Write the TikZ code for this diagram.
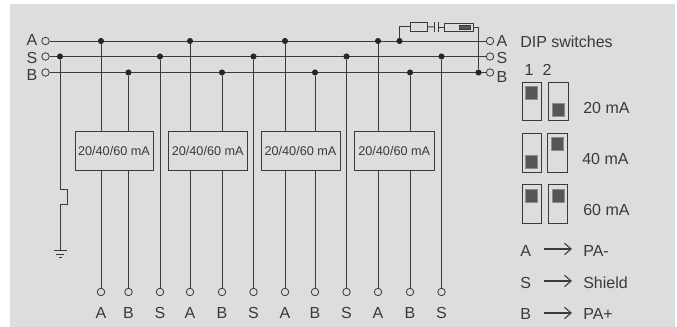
\documentclass[tikz,border=0pt]{standalone}
\usepackage{fontspec}
\setmainfont{Liberation Sans}
\usetikzlibrary{arrows.meta}
\definecolor{panel}{HTML}{DCDDDF}
\definecolor{ink}{HTML}{3A3A3A}
\definecolor{knobgray}{HTML}{555657}
\tikzstyle{wire}=[color=ink,line width=0.7pt]
\tikzstyle{dot}=[circle,fill=black!85,inner sep=0pt,minimum size=4.6pt]
\tikzstyle{term}=[circle,draw=ink,fill=panel,line width=0.6pt,inner sep=0pt,minimum size=5.6pt]
\tikzstyle{lbl}=[text=ink,inner sep=0pt,font=\fontsize{12}{14}\selectfont]
\tikzstyle{lblW}=[lbl,anchor=west]
\tikzstyle{modbox}=[draw=ink,fill=panel,line width=0.7pt,inner sep=0pt,minimum height=29.25pt,text=ink,font=\fontsize{9.5}{11}\selectfont]
\tikzstyle{switchbox}=[draw=ink,fill=panel,line width=0.7pt,inner sep=0pt,minimum width=14.4pt,minimum height=29pt]
\tikzstyle{knob}=[draw=black!45,fill=knobgray,line width=0.5pt,inner sep=0pt,minimum width=9pt,minimum height=9.6pt]
\tikzstyle{part}=[draw=ink,fill=panel,line width=0.7pt,inner sep=0pt]
\tikzstyle{arr}=[color=ink,line width=0.8pt,-{Straight Barb[length=5pt,width=8.5pt]}]
\newcommand{\tap}[4]{
  \node[dot] (t#1) at (#2,#3) {};
  \node[term] (p#1) at (#2,292) {};
  \node[lbl] (l#1) at (#2,313) {#4}
 }
\newcommand{\module}[3]{
  \node[modbox,minimum width=#3] (#1) at (#2,150.5) {20/40/60 mA}
 }
\newcommand{\feed}[2]{
  \draw[wire] (t#1) -- (t#1 |- #2.north);
  \draw[wire] (t#1 |- #2.south) -- (p#1)
 }
\newcommand{\dip}[4]{
  \node[switchbox] (#1) at (#2,#3) {};
  \node[knob] (k#1) at ([yshift=#4]#1.center) {}
 }
\newcommand{\legendrow}[5]{
  \node[lblW] (n#1) at (520,#4) {#2};
  \node[lblW] (v#1) at (583,#4) {#3};
  \coordinate (a#1) at (544,#5);
  \coordinate (b#1) at (572,#5);
  \draw[arr] (a#1) -- (b#1)
 }

\begin{document}
\begin{tikzpicture}[x=0.75pt,y=-0.75pt]
  \useasboundingbox (0,0) rectangle (677,327);
  \fill[panel] (10,4) rectangle (675,327);

  \node[term] (la) at (45.5,41) {};
  \node[term] (ls) at (45.5,56.5) {};
  \node[term] (lb) at (45.5,72.5) {};
  \node[term] (ra) at (490,41) {};
  \node[term] (rs) at (490,56.5) {};
  \node[term] (rb) at (490,72.5) {};
  \node[lbl] (nla) at (32,40) {A};
  \node[lbl] (nls) at (32,58) {S};
  \node[lbl] (nlb) at (32,75) {B};
  \node[lbl] (nra) at (502,41) {A};
  \node[lbl] (nrs) at (502,58) {S};
  \node[lbl] (nrb) at (502,77) {B};
  \draw[wire] (la) -- (ra);
  \draw[wire] (ls) -- (rs);
  \draw[wire] (lb) -- (rb);

  \tap{a1}{101}{41}{A};
  \tap{b1}{128.5}{72.5}{B};
  \tap{s1}{160}{56.5}{S};
  \tap{a2}{190}{41}{A};
  \tap{b2}{222}{72.5}{B};
  \tap{s2}{253.5}{56.5}{S};
  \tap{a3}{285}{41}{A};
  \tap{b3}{315}{72.5}{B};
  \tap{s3}{346.5}{56.5}{S};
  \tap{a4}{378}{41}{A};
  \tap{b4}{410}{72.5}{B};
  \tap{s4}{441.5}{56.5}{S};

  \module{m1}{114}{58.5pt};
  \module{m2}{207.75}{59pt};
  \module{m3}{300.5}{59.25pt};
  \module{m4}{394.25}{60.4pt};

  \feed{a1}{m1};
  \feed{b1}{m1};
  \feed{a2}{m2};
  \feed{b2}{m2};
  \feed{a3}{m3};
  \feed{b3}{m3};
  \feed{a4}{m4};
  \feed{b4}{m4};
  \draw[wire] (ts1) -- (ps1);
  \draw[wire] (ts2) -- (ps2);
  \draw[wire] (ts3) -- (ps3);
  \draw[wire] (ts4) -- (ps4);

  % shield to earth
  \node[dot] (t0) at (60,56.5) {};
  \coordinate (gnd) at (60,250);
  \draw[wire] (t0) -- (60,189) -- (67.5,189) -- (67.5,204) -- (60,204) -- (gnd);
  \draw[wire] (53.5,250) -- (66.5,250);
  \draw[wire] (56,254) -- (64,254);
  \draw[wire] (58.5,257.5) -- (61.5,257.5);

  % termination
  \node[dot] (ta) at (399.5,41) {};
  \node[dot] (tb) at (478.5,72.5) {};
  \node[part,minimum width=12.75pt,minimum height=7pt] (res) at (418.5,26.75) {};
  \node[part,minimum width=21.75pt,minimum height=6pt] (fuse) at (458.5,27) {};
  \node[fill=knobgray,draw=ink,inner sep=0pt,minimum width=8.5pt,minimum height=2.6pt] (fusecore) at (465,27.5) {};
  \coordinate (capl) at (434,27);
  \coordinate (capr) at (438,27);
  \draw[wire] (ta) |- (res.west);
  \draw[wire] (res.east) -- (capl);
  \draw[wire] (capr) -- (fuse.west);
  \draw[wire] (434,22) -- (434,32);
  \draw[wire] (438,22) -- (438,32);
  \draw[wire] (fuse.east) -| (tb);

  \node[lblW] (dips) at (520,42) {DIP switches};
  \node[lbl] (one) at (529,70) {1};
  \node[lbl] (two) at (547,70) {2};
  \dip{sa}{531.75}{101.5}{6.4pt};
  \dip{sb}{558.5}{101.5}{-6.2pt};
  \dip{sc}{531.75}{153}{-6.4pt};
  \dip{sd}{557.5}{153}{6.6pt};
  \dip{se}{531.75}{204}{6.4pt};
  \dip{sf}{558}{204}{6.4pt};
  \node[lblW] (ma20) at (583,108) {20 mA};
  \node[lblW] (ma40) at (582,159) {40 mA};
  \node[lblW] (ma60) at (583,210) {60 mA};

  \legendrow{A}{A}{PA-}{251}{249};
  \legendrow{S}{S}{Shield}{283}{281};
  \legendrow{B}{B}{PA+}{314}{313};
\end{tikzpicture}
\end{document}
